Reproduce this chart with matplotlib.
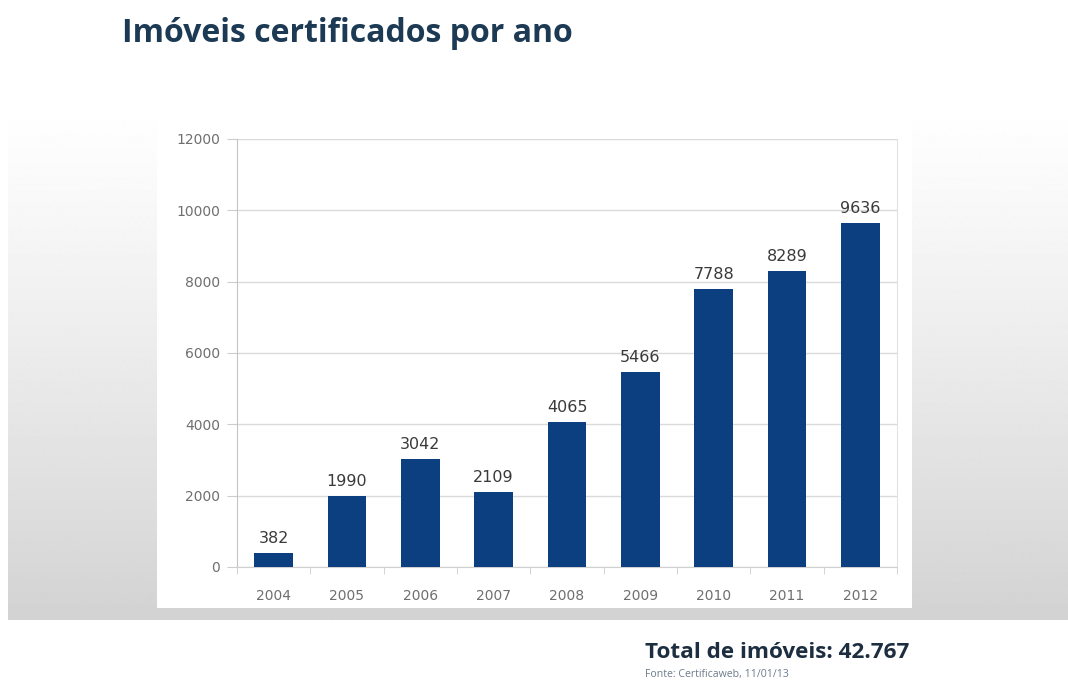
import numpy as np
import matplotlib
matplotlib.use("Agg")
import matplotlib.pyplot as plt
from matplotlib.patches import Rectangle

# Data
years = ["2004", "2005", "2006", "2007", "2008", "2009", "2010", "2011", "2012"]
imoveis = [382, 1990, 3042, 2109, 4065, 5466, 7788, 8289, 9636]
y_ticks = [0, 2000, 4000, 6000, 8000, 10000, 12000]

title = "Imóveis certificados por ano"
total_text = "Total de imóveis: 42.767"
source_text = "Fonte: Certificaweb, 11/01/13"

W, H = 1068, 682
fig = plt.figure(figsize=(W / 100, H / 100), dpi=100)
fig.patch.set_facecolor("white")

# Slide background: vertical white-to-gray gradient band
bg = fig.add_axes([0, 0, 1, 1])
bg.set_xlim(0, W)
bg.set_ylim(H, 0)
bg.axis("off")
ys = np.arange(90, 621)
t = np.clip((ys - 100) / (615 - 100), 0, 1)
g = (255 - 44 * t ** 1.15) / 255.0
grad = np.repeat(g[:, None], 2, axis=1)
bg.imshow(grad, cmap="gray", vmin=0, vmax=1, extent=[8, W, 620, 90],
          aspect="auto", interpolation="bilinear", zorder=0)
bg.add_patch(Rectangle((157, 112), 755, 496, facecolor="white",
                       edgecolor="none", zorder=1))

bg.text(122, 33, title, fontsize=23, fontweight="bold", family="Open Sans",
        color="#1d3a54", va="center", ha="left")
bg.text(645, 652, total_text, fontsize=16.2, fontweight="bold", family="Open Sans",
        color="#1c2e40", va="center", ha="left")
bg.text(645, 675, source_text, fontsize=7.6, family="Open Sans",
        color="#6c7c8c", va="center", ha="left")

# Chart
ax = fig.add_axes([237 / W, (H - 567) / H, 660 / W, 428 / H])
ax.set_facecolor("none")
x = np.arange(len(years))
bars = ax.bar(x, imoveis, width=0.53, color="#0b3f80", zorder=3)
ax.set_xlim(-0.5, len(years) - 0.5)
ax.set_ylim(0, 12000)
ax.set_yticks(y_ticks)
ax.set_yticklabels([str(v) for v in y_ticks])
ax.set_xticks(x)
ax.set_xticklabels(years)
ax.set_xticks(np.arange(-0.5, len(years)), minor=True)
ax.tick_params(axis="x", which="major", length=0, pad=16, labelsize=10,
               labelcolor="#6f6f6f")
ax.tick_params(axis="x", which="minor", length=5, color="#cccccc")
ax.tick_params(axis="y", length=7, color="#cccccc", pad=5, labelsize=10,
               labelcolor="#6f6f6f")
ax.yaxis.grid(True, color="#dadada", linewidth=1, zorder=0)
ax.set_axisbelow(True)
ax.spines["left"].set_color("#c4c4c4")
ax.spines["bottom"].set_color("#d0d0d0")
ax.spines["right"].set_color("#e2e2e2")
ax.spines["top"].set_visible(False)

for b, v in zip(bars, imoveis):
    ax.annotate(str(v), (b.get_x() + b.get_width() / 2, v),
                xytext=(0, 5), textcoords="offset points",
                ha="center", va="bottom", fontsize=11.5, color="#3a3a3a")

fig.savefig("out.png", dpi=100, facecolor="white")
